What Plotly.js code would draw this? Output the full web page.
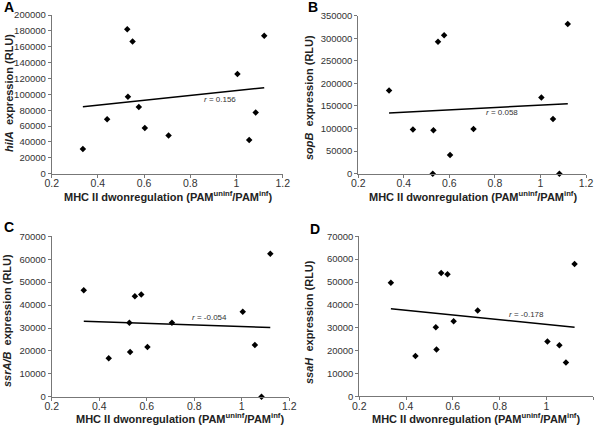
<!DOCTYPE html>
<html><head><meta charset="utf-8">
<script src="https://cdn.plot.ly/plotly-3.0.1.min.js"></script>
<style>body{margin:0;background:#fff}#chart{width:600px;height:427px}</style>
</head><body><div id="chart"></div>
<script>
// Shared x values (MHC II downregulation ratio)
const xVals = [0.335, 0.44, 0.527, 0.53, 0.55, 0.577, 0.603, 0.706, 1.004, 1.055, 1.083, 1.12];
// Panel y values (RLU)
const hilA  = [31000, 68500, 182000, 97000, 166500, 84000, 57500, 48000, 125500, 42500, 77000, 174000];
const sopB  = [184500, 98000, 0, 96000, 292500, 306500, 41500, 99000, 169000, 121000, 0, 331500];
const ssrAB = [46500, 16800, 32300, 19500, 43900, 44600, 21700, 32300, 37100, 22600, 0, 62400];
const ssaH  = [49700, 17600, 30200, 20500, 53900, 53400, 32800, 37500, 24000, 22300, 14800, 57900];
// Fitted line end points
const fitX = [0.335, 1.12];
const fitA = [84500, 108400];
const fitB = [134500, 155000];
const fitC = [32900, 30200];
const fitD = [38300, 30200];
const rLabels = ['0.156', '0.058', '-0.054', '-0.178'];
const rPos = [[0.93, 93000], [0.83, 136000], [0.866, 34500], [0.915, 36000]];
const genes = ['hilA', 'sopB', 'ssrA/B', 'ssaH'];
const panelLetters = ['A', 'B', 'C', 'D'];
const yMax = [200000, 350000, 70000, 70000];
const yStep = [20000, 50000, 10000, 10000];

const ys = [hilA, sopB, ssrAB, ssaH];
const fits = [fitA, fitB, fitC, fitD];
const axIds = ['', '2', '3', '4'];
const W = 600, H = 427;
// plot-area pixel boxes [x0, x1, yTop, yBottom]
const boxes = [[51.7, 282.7, 15, 173.7], [358.3, 586, 15.7, 173.7], [51.7, 289.3, 236.3, 396.8], [359.3, 593.3, 236.3, 396.3]];
const xTitlePos = [[168, 196], [473, 196], [180, 417.5], [476, 417.5]];
const yTitlePos = [[9, 93], [309, 98], [7, 321], [309, 322]];
const letterPos = [[1.5, 6.5], [306, 6.5], [1.5, 227], [308, 229]];

const traces = [];
const layout = {
  width: W, height: H, margin: {l: 0, r: 0, t: 0, b: 0, pad: 0},
  paper_bgcolor: '#fff', plot_bgcolor: '#fff', showlegend: false,
  font: {family: 'Liberation Sans, Arial, sans-serif', color: '#333'},
  annotations: []
};
const px = v => v / W, py = v => 1 - v / H;

for (let i = 0; i < 4; i++) {
  const xa = 'x' + axIds[i], ya = 'y' + axIds[i];
  traces.push({x: xVals, y: ys[i], xaxis: xa, yaxis: ya, type: 'scatter', mode: 'markers',
    cliponaxis: false, marker: {symbol: 'diamond', size: 5, color: '#000'}, hoverinfo: 'skip'});
  traces.push({x: fitX, y: fits[i], xaxis: xa, yaxis: ya, type: 'scatter', mode: 'lines',
    line: {color: '#000', width: 1.5}, hoverinfo: 'skip'});
  const b = boxes[i];
  const axCommon = {showgrid: false, zeroline: false, showline: true, linecolor: '#777', linewidth: 1,
    ticks: 'outside', ticklen: 3, tickcolor: '#777'};
  layout['xaxis' + axIds[i]] = Object.assign({}, axCommon, {domain: [px(b[0]), px(b[1])], range: [0.2, 1.2],
    dtick: 0.2, tick0: 0.2, anchor: ya, tickfont: {size: 10.5, color: '#333'}, ticklabelstandoff: -3});
  layout['yaxis' + axIds[i]] = Object.assign({}, axCommon, {domain: [py(b[3]), py(b[2])], range: [0, yMax[i]],
    dtick: yStep[i], tick0: 0, tickformat: 'd', anchor: xa, tickfont: {size: 9.5, color: '#333'}, ticklabelstandoff: 0});
  layout.annotations.push({xref: xa, yref: ya, x: rPos[i][0], y: rPos[i][1], showarrow: false,
    text: '<i>r</i> = ' + rLabels[i], font: {size: 8, color: '#333'}});
  layout.annotations.push({xref: 'paper', yref: 'paper', x: px(xTitlePos[i][0]), y: py(xTitlePos[i][1]),
    xanchor: 'center', yanchor: 'middle', showarrow: false,
    text: '<b>MHC II dwonregulation (PAM<sup>uninf</sup>/PAM<sup>inf</sup>)</b>', font: {size: 11, color: '#222'}});
  layout.annotations.push({xref: 'paper', yref: 'paper', x: px(yTitlePos[i][0]), y: py(yTitlePos[i][1]),
    xanchor: 'center', yanchor: 'middle', showarrow: false, textangle: -90,
    text: '<b><i>' + genes[i] + '</i>  expression (RLU)</b>', font: {size: 11, color: '#222'}});
  layout.annotations.push({xref: 'paper', yref: 'paper', x: px(letterPos[i][0]), y: py(letterPos[i][1]),
    xanchor: 'left', yanchor: 'middle', showarrow: false,
    text: '<b>' + panelLetters[i] + '</b>', font: {size: 14, color: '#000'}});
}
Plotly.newPlot('chart', traces, layout, {staticPlot: true});
</script></body></html>
